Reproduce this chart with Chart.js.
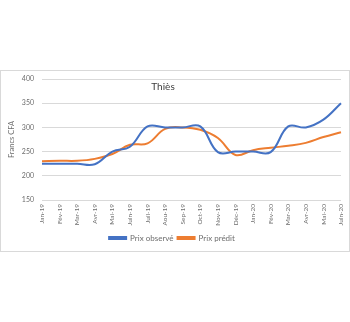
<!DOCTYPE html>
<html>
<head>
<meta charset="utf-8">
<script src="https://cdn.jsdelivr.net/npm/chart.js@4"></script>
<style>
  html, body { margin: 0; padding: 0; background: #fff; }
  #wrap { width: 350px; height: 322px; }
</style>
</head>
<body>
<div id="wrap"><canvas id="prix-chart" width="350" height="322"></canvas></div>
<script>
const mois = ['Jan-19', 'Fév-19', 'Mar-19', 'Avr-19', 'Mai-19', 'Juin-19', 'Juil-19', 'Aou-19', 'Sep-19',
    'Oct-19', 'Nov-19', 'Déc-19', 'Jan-20', 'Fév-20', 'Mar-20', 'Avr-20', 'Mai-20', 'Juin-20'];
const prixObserve = [225, 225, 225, 224, 250, 260, 302, 300, 300, 302, 249, 250, 250, 249, 302, 300, 316, 350];
const prixPredit = [230, 231, 231, 235, 245, 264, 267, 297, 300, 295, 278, 243, 253, 258, 262, 268, 280, 290];
const yTicks = [150, 200, 250, 300, 350, 400];

const gris = '#6d6d6d';
const police = "Lato, sans-serif";

// cadre gris clair et titre dans la zone du graphique
const cadre = {
    id: 'cadre',
    beforeDraw(chart) {
        const ctx = chart.ctx;
        ctx.save();
        ctx.fillStyle = '#fff';
        ctx.fillRect(0, 0, chart.width, chart.height);
        ctx.strokeStyle = '#d9d9d9';
        ctx.lineWidth = 1;
        ctx.strokeRect(0.5, 70.5, 349, 181);
        ctx.restore();
    },
    afterDraw(chart) {
        const ctx = chart.ctx;
        ctx.save();
        ctx.font = "10px " + police;
        ctx.fillStyle = '#404040';
        ctx.textAlign = 'center';
        ctx.textBaseline = 'middle';
        ctx.fillText('Thiès', 163, 87);
        ctx.restore();
    }
};

new Chart(document.getElementById('prix-chart'), {
    type: 'line',
    data: {
        labels: mois,
        datasets: [
            {
                label: 'Prix observé',
                data: prixObserve,
                borderColor: '#4472C4',
                backgroundColor: '#4472C4',
                borderWidth: 2,
                tension: 0.4,
                pointRadius: 0
            },
            {
                label: 'Prix prédit',
                data: prixPredit,
                borderColor: '#ED7D31',
                backgroundColor: '#ED7D31',
                borderWidth: 2,
                tension: 0.4,
                pointRadius: 0
            }
        ]
    },
    options: {
        responsive: false,
        animation: false,
        devicePixelRatio: 1,
        layout: { padding: { top: 79, left: 3, right: 9, bottom: 70 } },
        plugins: {
            legend: {
                position: 'bottom',
                labels: {
                    boxWidth: 17,
                    boxHeight: 2,
                    padding: 4,
                    color: gris,
                    font: { family: police, size: 8 }
                }
            },
            tooltip: { enabled: false }
        },
        scales: {
            x: {
                grid: { display: false },
                border: { display: false },
                ticks: {
                    minRotation: 90,
                    maxRotation: 90,
                    padding: -4,
                    color: gris,
                    font: { family: police, size: 6.5 }
                },
                afterFit(scale) { scale.height = 30; }
            },
            y: {
                min: 150,
                max: 400,
                afterBuildTicks(scale) { scale.ticks = yTicks.map(v => ({ value: v })); },
                grid: { color: '#d9d9d9', drawTicks: false },
                border: { display: false },
                ticks: {
                    padding: 8,
                    color: gris,
                    font: { family: police, size: 7 }
                },
                title: {
                    display: true,
                    text: 'Francs CFA',
                    color: gris,
                    font: { family: police, size: 7.5 },
                    padding: { top: 4, bottom: 0 }
                },
                afterFit(scale) { scale.width = 39; }
            }
        }
    },
    plugins: [cadre]
});
</script>
</body>
</html>
